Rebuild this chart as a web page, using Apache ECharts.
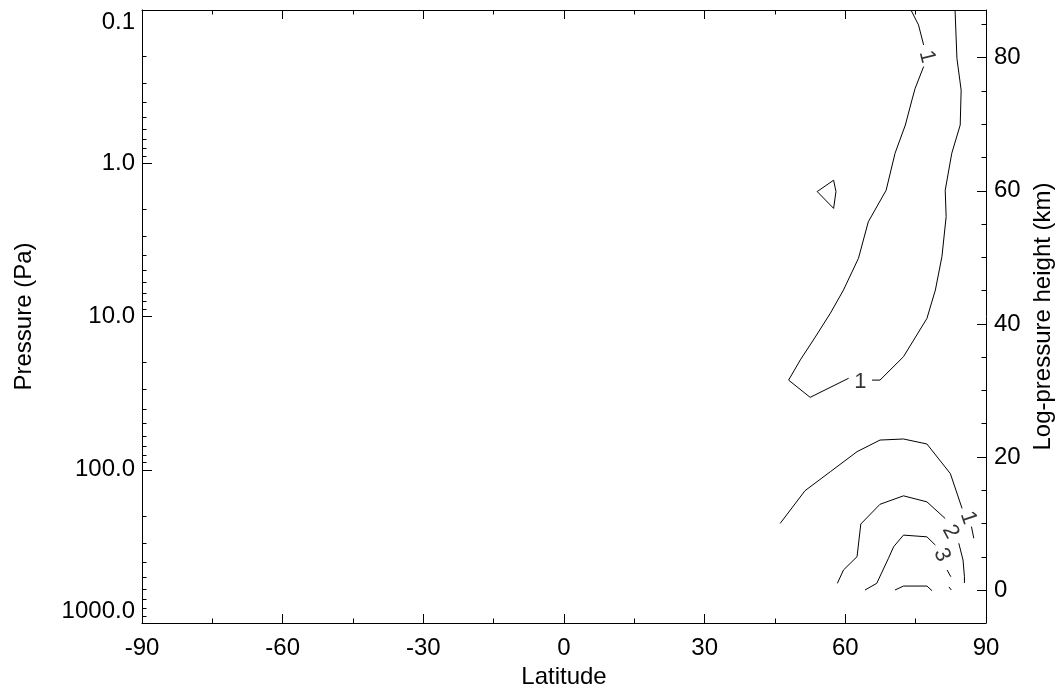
<!DOCTYPE html>
<html>
<head>
<meta charset="utf-8">
<title>Latitude - pressure contours</title>
<script src="https://cdn.jsdelivr.net/npm/echarts@6/dist/echarts.min.js"></script>
<style>
  html, body { margin: 0; padding: 0; background: #fff; }
  #chart { width: 1056px; height: 693px; }
</style>
</head>
<body>
<div id="chart"></div>
<script>
var FONT = "'Liberation Sans', Arial, Helvetica, sans-serif";

// axis ticks
var latTicks = [-90, -60, -30, 0, 30, 60, 90];
var heightLabels = [0, 20, 40, 60, 80];
var heightTicks = [0, 5, 10, 15, 20, 25, 30, 35, 40, 45, 50, 55, 60, 65, 70, 75, 80, 85];

// contour lines, [latitude, pressure Pa], split where labels sit
var c1TopA = [[74.0, 0.100], [75.6, 0.125], [76.7, 0.169]];
var c1TopB = [[76.7, 0.234], [74.9, 0.324], [74.2, 0.387], [72.8, 0.563], [70.6, 0.861],
  [68.7, 1.50], [64.9, 2.41], [62.8, 4.17], [59.6, 6.72], [56.8, 9.53], [53.6, 13.6],
  [50.4, 19.2], [47.9, 26.0], [52.5, 33.7], [60.7, 25.3]];
var c1TopC = [[65.7, 26.0], [67.4, 26.0], [72.4, 18.3], [77.4, 10.3], [79.2, 6.72],
  [80.6, 4.07], [81.5, 2.23], [81.3, 1.50], [82.7, 0.861], [84.5, 0.563], [84.7, 0.333],
  [83.8, 0.207], [83.4, 0.100]];
var c1Island = [[54.0, 1.53], [57.5, 1.29], [58.0, 1.53], [57.5, 1.97], [54.0, 1.53]];
var c1LowA = [[46.1, 224], [51.4, 137], [56.8, 103], [62.5, 76.2], [67.4, 64.0],
  [72.4, 63.0], [77.4, 67.9], [82.4, 106], [84.9, 179]];
var c1LowB = [[86.9, 235], [87.4, 280]];
var c2A = [[58.3, 551], [59.6, 451], [62.5, 369], [63.3, 226], [67.4, 168], [72.4, 148],
  [77.4, 162], [81.3, 208]];
var c2B = [[84.2, 302], [85.1, 388], [85.4, 499], [85.4, 548]];
var c3A = [[64.2, 609], [66.7, 551], [69.2, 378], [70.3, 318], [72.4, 267], [77.4, 274],
  [79.2, 310]];
var c3B = [[81.7, 451], [82.5, 499]];
var c3C = [[82.1, 582], [82.6, 609]];
var c4 = [[70.6, 609], [72.4, 574], [77.4, 574], [78.5, 616]];

// contour labels: latitude, pressure, text, rotation
var contourLabels = [
  [77.4, 0.202, '1', -76],
  [63.2, 26.6, '1', 0],
  [86.2, 206, '1', -71],
  [82.4, 254, '2', -62],
  [80.6, 360, '3', -65]
];

var chart = echarts.init(document.getElementById('chart'), null, { renderer: 'canvas' });

function line(data) {
  return {
    type: 'line',
    xAxisIndex: 0,
    yAxisIndex: 0,
    data: data,
    symbol: 'none',
    silent: true,
    lineStyle: { color: '#000', width: 1 }
  };
}

var axisText = { color: '#000', fontSize: 24, fontFamily: FONT };
var frameLine = { onZero: false, lineStyle: { color: '#000', width: 1 } };

var xAxisBase = {
  type: 'value',
  min: -90,
  max: 90,
  interval: 30,
  splitLine: { show: false },
  axisLine: frameLine,
  axisTick: { inside: true, length: 9, lineStyle: { color: '#000' } },
  minorTick: { show: true, splitNumber: 2, length: 4.5, lineStyle: { color: '#000' } }
};

var series = [c1TopA, c1TopB, c1TopC, c1Island, c1LowA, c1LowB, c2A, c2B, c3A, c3B, c3C, c4].map(line);
series.push({
  type: 'scatter',
  xAxisIndex: 0,
  yAxisIndex: 0,
  symbolSize: 0,
  silent: true,
  label: { show: true, position: 'inside', color: '#000', fontSize: 22, fontFamily: FONT },
  data: contourLabels.map(function (d) {
    return { value: [d[0], d[1]], label: { formatter: d[2], rotate: d[3] } };
  })
});

chart.setOption({
  animation: false,
  backgroundColor: '#fff',
  grid: { left: 142, right: 70, top: 10, bottom: 70, outerBoundsMode: 'none', containLabel: false },
  xAxis: [
    Object.assign({}, xAxisBase, {
      position: 'bottom',
      name: 'Latitude',
      nameLocation: 'middle',
      nameGap: 42,
      nameTextStyle: axisText,
      axisLabel: Object.assign({ margin: 13, customValues: latTicks }, axisText)
    }),
    Object.assign({}, xAxisBase, {
      position: 'top',
      axisLabel: { show: false }
    })
  ],
  yAxis: [
    {
      type: 'log',
      logBase: 10,
      min: 0.1,
      max: 1000,
      inverse: true,
      position: 'left',
      name: 'Pressure (Pa)',
      nameLocation: 'middle',
      nameRotate: 90,
      nameGap: 106,
      nameTextStyle: axisText,
      splitLine: { show: false },
      axisLine: frameLine,
      axisTick: { inside: true, length: 10, lineStyle: { color: '#000' } },
      minorTick: { show: true, splitNumber: 9, length: 4.5, lineStyle: { color: '#000' } },
      axisLabel: Object.assign({
        margin: 7,
        verticalAlignMinLabel: 'top',
        verticalAlignMaxLabel: 'bottom',
        formatter: function (v) { return v.toFixed(1); }
      }, axisText)
    },
    {
      type: 'value',
      min: -4.943,
      max: 87.16,
      position: 'right',
      name: 'Log-pressure height (km)',
      nameLocation: 'middle',
      nameRotate: 90,
      nameGap: 40,
      nameTextStyle: axisText,
      splitLine: { show: false },
      axisLine: frameLine,
      axisTick: { inside: true, length: 9, customValues: heightLabels, lineStyle: { color: '#000' } },
      axisLabel: Object.assign({ margin: 8, customValues: heightLabels }, axisText)
    },
    {
      type: 'value',
      min: -4.943,
      max: 87.16,
      position: 'right',
      splitLine: { show: false },
      axisLine: { show: false, onZero: false },
      axisTick: { inside: true, length: 4.5, customValues: heightTicks, lineStyle: { color: '#000' } },
      axisLabel: { show: false }
    }
  ],
  series: series
});
</script>
</body>
</html>
